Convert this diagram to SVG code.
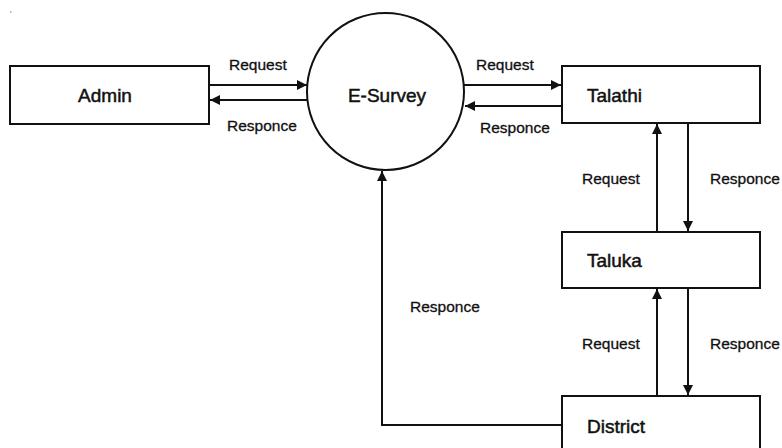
<svg xmlns="http://www.w3.org/2000/svg" width="782" height="448" viewBox="0 0 782 448">
<style>
.box{fill:#fff;stroke:#111;stroke-width:2}
.ln{fill:none;stroke:#111;stroke-width:2;marker-end:url(#ah)}
.nt{font-family:"Liberation Sans",Arial,sans-serif;font-size:19px;fill:#111;stroke:#111;stroke-width:0.5}
.lt{font-family:"Liberation Sans",Arial,sans-serif;font-size:15.5px;fill:#111;stroke:#111;stroke-width:0.3}
</style>
<defs>
<marker id="ah" viewBox="0 0 10 10" refX="10" refY="5" markerWidth="5" markerHeight="5" orient="auto" markerUnits="strokeWidth">
<path d="M0,0 L10,5 L0,10 z" fill="#111"/>
</marker>
</defs>
<rect x="10" y="11" width="1.5" height="2" fill="#bbb"/>
<g id="connectors">
<path class="ln" d="M209,85 H307"/>
<path class="ln" d="M307,100 H210"/>
<path class="ln" d="M464,85 H561"/>
<path class="ln" d="M562,106 H465"/>
<path class="ln" d="M657,232 V124"/>
<path class="ln" d="M688,124 V231"/>
<path class="ln" d="M657,396 V289"/>
<path class="ln" d="M688,288 V395"/>
<path class="ln" d="M562,425 H382 V171"/>
<text class="lt" x="229" y="70">Request</text>
<text class="lt" x="227" y="131">Responce</text>
<text class="lt" x="476" y="70">Request</text>
<text class="lt" x="480" y="133">Responce</text>
<text class="lt" x="582" y="184">Request</text>
<text class="lt" x="710" y="184">Responce</text>
<text class="lt" x="582" y="349">Request</text>
<text class="lt" x="710" y="349">Responce</text>
<text class="lt" x="410" y="312">Responce</text>
</g>
<g id="admin">
<rect class="box" x="10" y="66" width="199" height="58"/>
<text class="nt" x="105" y="102" text-anchor="middle">Admin</text>
</g>
<g id="esurvey">
<circle class="box" cx="385.5" cy="91.5" r="78.5"/>
<text class="nt" x="387" y="102" text-anchor="middle">E-Survey</text>
</g>
<g id="talathi">
<rect class="box" x="562" y="66" width="198" height="57"/>
<text class="nt" x="587" y="102">Talathi</text>
</g>
<g id="taluka">
<rect class="box" x="562" y="232" width="198" height="56"/>
<text class="nt" x="587" y="267">Taluka</text>
</g>
<g id="district">
<rect class="box" x="562" y="396" width="198" height="60"/>
<text class="nt" x="587" y="433">District</text>
</g>
</svg>
